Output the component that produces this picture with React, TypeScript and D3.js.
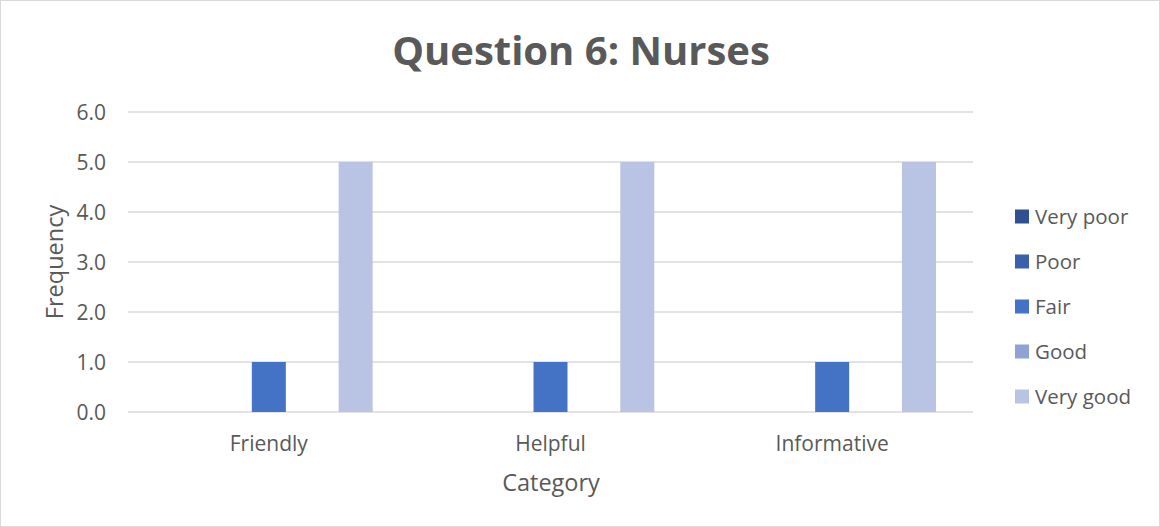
import React from "react";
import * as d3 from "d3";

const categories = ["Friendly", "Helpful", "Informative"];
const seriesNames = ["Very poor", "Poor", "Fair", "Good", "Very good"];
const seriesColors = ["#2F5192", "#3A5FAD", "#4472C4", "#8FA2D4", "#B9C3E3"];
const veryPoor = [0, 0, 0];
const poor = [0, 0, 0];
const fair = [1, 1, 1];
const good = [0, 0, 0];
const veryGood = [5, 5, 5];
const yTicks = [0, 1, 2, 3, 4, 5, 6];

const seriesValues = [veryPoor, poor, fair, good, veryGood];

const W = 1160;
const H = 527;
const plot = { left: 128, right: 973, top: 112, bottom: 412 };
const FONT = "'Open Sans', sans-serif";
const TXT = "#595959";

export default function App() {
  const x0 = d3.scaleBand<string>().domain(categories).range([plot.left, plot.right]).paddingInner(0).paddingOuter(0);
  const step = 43.4;
  const barW = 34;
  const y = d3.scaleLinear().domain([0, 6]).range([plot.bottom, plot.top]);

  return (
    <svg width={W} height={H} style={{ position: "fixed", left: 0, top: 0, background: "#fff" }} fontFamily={FONT}>
      <rect x={0.5} y={0.5} width={W - 1} height={H - 1} fill="#fff" stroke="#D9D9D9" />
      <text x={581} y={65} textAnchor="middle" fontSize={40} fontWeight="bold" fill={TXT}>
        Question 6: Nurses
      </text>
      {yTicks.map((t) => (
        <g key={t}>
          <line x1={plot.left} x2={plot.right} y1={y(t)} y2={y(t)} stroke="#D9D9D9" strokeWidth={1.3} />
          <text x={106} y={y(t)} dy="0.36em" textAnchor="end" fontSize={21} fill={TXT}>
            {d3.format(".1f")(t)}
          </text>
        </g>
      ))}
      {categories.map((c, ci) => {
        const cx = (x0(c) as number) + x0.bandwidth() / 2;
        return (
          <g key={c}>
            {seriesValues.map((vals, si) => {
              const v = vals[ci];
              if (!v) return null;
              const bx = cx + (si - 2) * step - barW / 2;
              return (
                <rect key={si} x={bx} y={y(v)} width={barW} height={y(0) - y(v)} fill={seriesColors[si]} />
              );
            })}
            <text x={cx} y={443} dy="0.36em" textAnchor="middle" fontSize={21} fill={TXT}>
              {c}
            </text>
          </g>
        );
      })}
      <text x={551} y={483} dy="0.36em" textAnchor="middle" fontSize={23.5} fill={TXT}>
        Category
      </text>
      <text transform="translate(55,262) rotate(-90)" dy="0.36em" textAnchor="middle" fontSize={23.5} fill={TXT}>
        Frequency
      </text>
      {seriesNames.map((n, i) => {
        const ly = 216.5 + i * 45;
        return (
          <g key={n}>
            <rect x={1015} y={ly - 7} width={14} height={14} fill={seriesColors[i]} />
            <text x={1035} y={ly} dy="0.36em" fontSize={20.5} fill={TXT}>
              {n}
            </text>
          </g>
        );
      })}
    </svg>
  );
}
